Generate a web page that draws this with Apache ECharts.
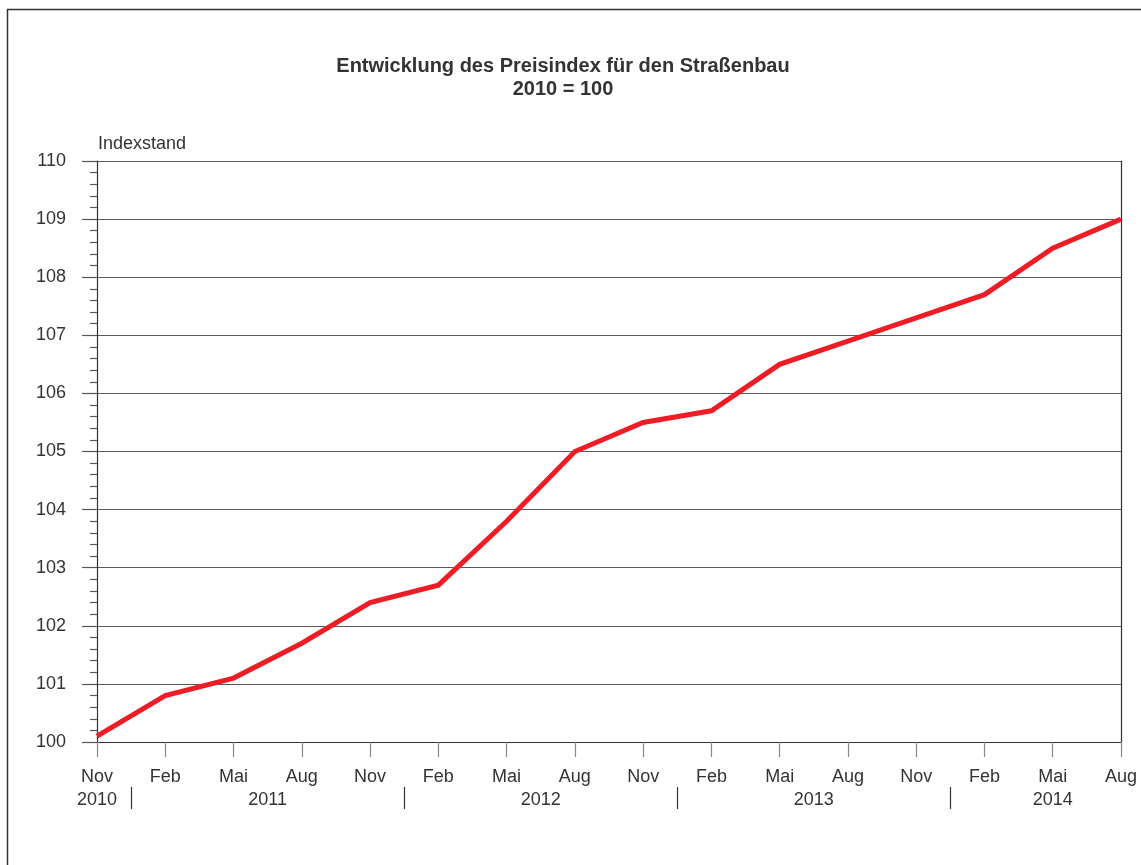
<!DOCTYPE html>
<html>
<head>
<meta charset="utf-8">
<style>html,body{margin:0;padding:0;background:#fff;}#c{width:1141px;height:865px;}</style>
<script src="https://cdn.jsdelivr.net/npm/echarts@6/dist/echarts.min.js"></script>
</head>
<body>
<div id="c"></div>
<script>
var months = ['Nov','Feb','Mai','Aug','Nov','Feb','Mai','Aug','Nov','Feb','Mai','Aug','Nov','Feb','Mai','Aug'];
var indexValues = [100.1,100.8,101.1,101.7,102.4,102.7,103.8,105.0,105.5,105.7,106.5,106.9,107.3,107.7,108.5,109.0];
var yearLabels = ['2010','2011','2012','2013','2014'];
var yearLabelIdx = [0,2.5,6.5,10.5,14];
var yearSeparatorIdx = [0.5,4.5,8.5,12.5];
var titleText = 'Entwicklung des Preisindex für den Straßenbau\n2010 = 100';
var yName = 'Indexstand';

var chart = echarts.init(document.getElementById('c'), null, {renderer:'canvas'});
var font = 'Liberation Sans, Arial, sans-serif';
var txt = '#333333';
chart.setOption({
  animation:false,
  textStyle:{fontFamily:font},
  graphic:[
    {type:'rect', shape:{x:7.5,y:9.5,width:1200,height:900}, style:{fill:'none', stroke:'#333', lineWidth:1.5}, silent:true},
    {type:'text', x:563, y:55, silent:true,
     style:{text:titleText, fill:txt, font:'bold 20px "Liberation Sans", Arial, sans-serif', lineHeight:23, align:'center', verticalAlign:'top'}}
  ],
  grid:{left:97, right:20, top:161, bottom:123, containLabel:false},
  xAxis:[{
    type:'category', data:months, boundaryGap:false,
    axisLine:{lineStyle:{color:'#333', width:1.2}},
    axisTick:{length:15, lineStyle:{color:'#888', width:1.2}},
    axisLabel:{fontSize:18, color:txt, margin:26, fontFamily:font, interval:0},
    splitLine:{show:false}
  },{
    type:'value', min:0, max:15, position:'bottom', offset:45,
    axisLine:{show:false},
    axisTick:{show:true, length:22, customValues:yearSeparatorIdx, lineStyle:{color:'#333', width:1.2}},
    axisLabel:{show:true, customValues:yearLabelIdx, fontSize:18, color:txt, margin:4, fontFamily:font,
      formatter:function(v){ var i = yearLabelIdx.indexOf(v); return i>=0 ? yearLabels[i] : ''; }},
    splitLine:{show:false}
  }],
  yAxis:[{
    type:'value', min:100, max:110, interval:1,
    name:yName, nameLocation:'end', nameGap:8,
    nameTextStyle:{fontSize:18, color:txt, align:'left', verticalAlign:'bottom', fontFamily:font, padding:[0,0,0,1]},
    axisLine:{show:true, lineStyle:{color:'#333', width:1.2}},
    axisTick:{show:true, length:15, lineStyle:{color:'#555', width:1.2}},
    minorTick:{show:true, splitNumber:5, length:7, lineStyle:{color:'#555', width:1.2}},
    axisLabel:{fontSize:18, color:txt, margin:31, fontFamily:font},
    splitLine:{show:true, lineStyle:{color:'#5a5a5a', width:1.2}}
  },{
    type:'value', min:100, max:110, interval:1, position:'right',
    axisLine:{show:true, lineStyle:{color:'#333', width:1.2}},
    axisTick:{show:false}, axisLabel:{show:false}, splitLine:{show:false}
  }],
  series:[{
    type:'line', data:indexValues, xAxisIndex:0, yAxisIndex:0,
    symbol:'none', lineStyle:{color:'#ee1d25', width:5, join:'miter'}
  }]
});
</script>
</body>
</html>
